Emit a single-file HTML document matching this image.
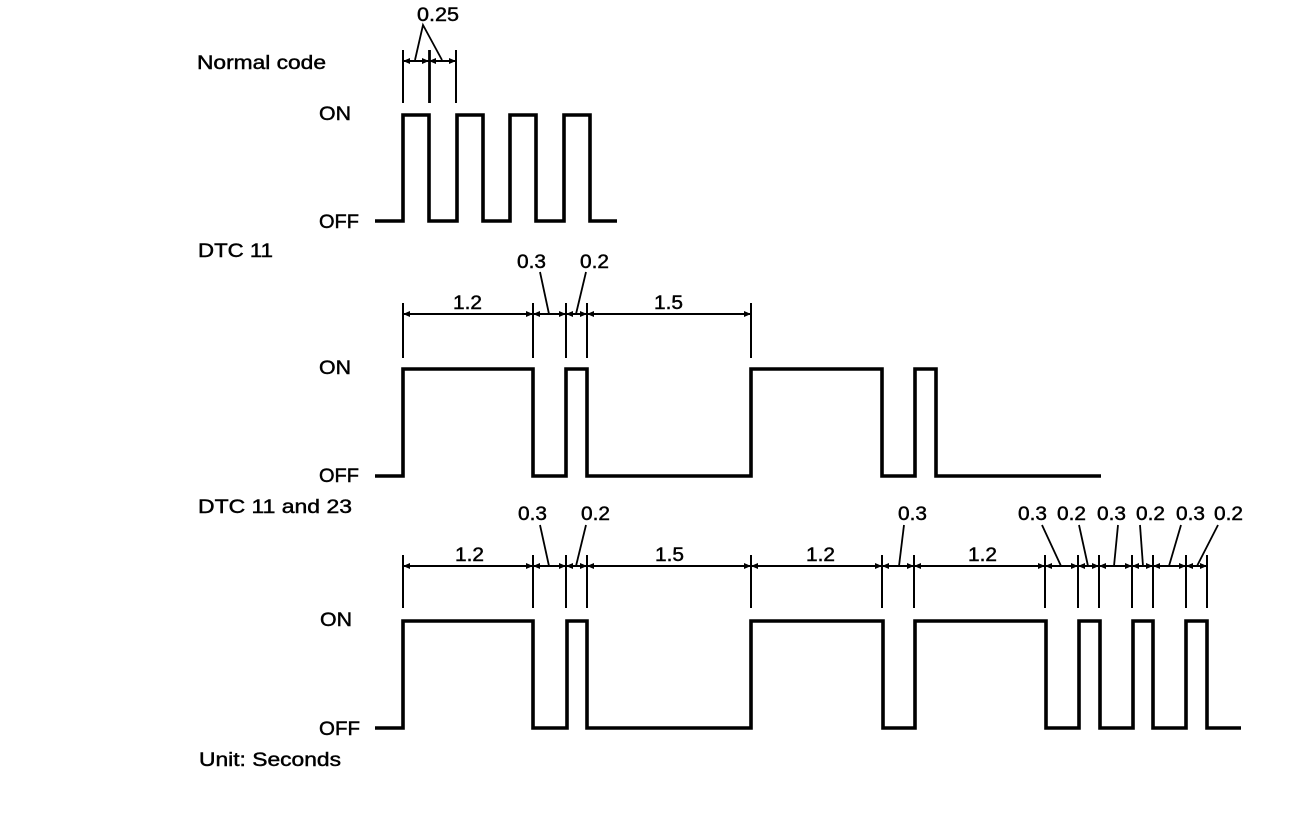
<!DOCTYPE html>
<html><head><meta charset="utf-8"><style>
html,body{margin:0;padding:0;background:#fff}
svg{display:block}
text{font-family:"Liberation Sans",sans-serif;fill:#000;stroke:#000;stroke-width:.45px;font-size:19px}
.w{fill:none;stroke:#000;stroke-width:3.6;stroke-linejoin:miter}
.d{fill:none;stroke:#000;stroke-width:2}
.t{stroke:#000;stroke-width:2}
.l{stroke:#000;stroke-width:1.8}
.m{text-anchor:middle}
</style></head><body>
<svg width="1312" height="824" viewBox="0 0 1312 824" xmlns="http://www.w3.org/2000/svg">
<defs>
<marker id="a" viewBox="0 0 7 6" refX="7" refY="3" markerWidth="7" markerHeight="6" markerUnits="userSpaceOnUse" orient="auto-start-reverse"><path d="M0 0L7 3L0 6Z" fill="#000"/></marker>
</defs>

<text x="197" y="69" textLength="129" lengthAdjust="spacingAndGlyphs">Normal code</text>
<text x="198" y="257" textLength="75" lengthAdjust="spacingAndGlyphs">DTC 11</text>
<text x="198" y="513" textLength="154" lengthAdjust="spacingAndGlyphs">DTC 11 and 23</text>
<text x="199" y="766" textLength="142" lengthAdjust="spacingAndGlyphs">Unit: Seconds</text>

<text x="319" y="120" textLength="32" lengthAdjust="spacingAndGlyphs">ON</text>
<text x="319" y="228" textLength="40" lengthAdjust="spacingAndGlyphs">OFF</text>
<text x="319" y="374" textLength="32" lengthAdjust="spacingAndGlyphs">ON</text>
<text x="319" y="482" textLength="40" lengthAdjust="spacingAndGlyphs">OFF</text>
<text x="320" y="626" textLength="32" lengthAdjust="spacingAndGlyphs">ON</text>
<text x="319" y="735" textLength="41" lengthAdjust="spacingAndGlyphs">OFF</text>

<text x="417" y="21" textLength="42" lengthAdjust="spacingAndGlyphs">0.25</text>
<text x="453" y="309" textLength="29" lengthAdjust="spacingAndGlyphs">1.2</text>
<text x="517" y="268" textLength="29" lengthAdjust="spacingAndGlyphs">0.3</text>
<text x="580" y="268" textLength="29" lengthAdjust="spacingAndGlyphs">0.2</text>
<text x="654" y="309" textLength="29" lengthAdjust="spacingAndGlyphs">1.5</text>
<text x="455" y="561" textLength="29" lengthAdjust="spacingAndGlyphs">1.2</text>
<text x="518" y="520" textLength="29" lengthAdjust="spacingAndGlyphs">0.3</text>
<text x="581" y="520" textLength="29" lengthAdjust="spacingAndGlyphs">0.2</text>
<text x="655" y="561" textLength="29" lengthAdjust="spacingAndGlyphs">1.5</text>
<text x="806" y="561" textLength="29" lengthAdjust="spacingAndGlyphs">1.2</text>
<text x="898" y="520" textLength="29" lengthAdjust="spacingAndGlyphs">0.3</text>
<text x="968" y="561" textLength="29" lengthAdjust="spacingAndGlyphs">1.2</text>
<text x="1018" y="520" textLength="29" lengthAdjust="spacingAndGlyphs">0.3</text>
<text x="1057" y="520" textLength="29" lengthAdjust="spacingAndGlyphs">0.2</text>
<text x="1097" y="520" textLength="29" lengthAdjust="spacingAndGlyphs">0.3</text>
<text x="1136" y="520" textLength="29" lengthAdjust="spacingAndGlyphs">0.2</text>
<text x="1176" y="520" textLength="29" lengthAdjust="spacingAndGlyphs">0.3</text>
<text x="1214" y="520" textLength="29" lengthAdjust="spacingAndGlyphs">0.2</text>

<path class="w" d="M375 221H403V115H429V221H457V115H483V221H510V115H536V221H564V115H590V221H617"/>
<path class="w" d="M375 476H403V369H533V476H566V369H587V476H751V369H882V476H915V369H936V476H1101"/>
<path class="w" d="M375 728H403V621H533V728H567V621H587V728H751V621H883V728H915V621H1046V728H1079V621H1100V728H1133V621H1153V728H1186V621H1207V728H1241"/>

<g class="t">
<line x1="403" y1="50" x2="403" y2="103"/><line x1="429.500" y1="50" x2="429.500" y2="103" stroke-width="2.800"/><line x1="456" y1="50" x2="456" y2="103"/>
<line x1="403" y1="303" x2="403" y2="358"/><line x1="533" y1="303" x2="533" y2="358"/><line x1="566" y1="303" x2="566" y2="358"/><line x1="587" y1="303" x2="587" y2="358"/><line x1="751" y1="303" x2="751" y2="358"/>
<line x1="403" y1="555" x2="403" y2="608"/><line x1="533" y1="555" x2="533" y2="608"/><line x1="566" y1="555" x2="566" y2="608"/><line x1="587" y1="555" x2="587" y2="608"/><line x1="751" y1="555" x2="751" y2="608"/><line x1="882" y1="555" x2="882" y2="608"/><line x1="914" y1="555" x2="914" y2="608"/><line x1="1045" y1="555" x2="1045" y2="608"/><line x1="1078" y1="555" x2="1078" y2="608"/><line x1="1099" y1="555" x2="1099" y2="608"/><line x1="1132" y1="555" x2="1132" y2="608"/><line x1="1153" y1="555" x2="1153" y2="608"/><line x1="1186" y1="555" x2="1186" y2="608"/><line x1="1207" y1="555" x2="1207" y2="608"/>
</g>

<g class="d">
<line x1="403" y1="61" x2="429" y2="61" marker-start="url(#a)" marker-end="url(#a)"/>
<line x1="429" y1="61" x2="456" y2="61" marker-start="url(#a)" marker-end="url(#a)"/>
<line x1="403" y1="314" x2="533" y2="314" marker-start="url(#a)" marker-end="url(#a)"/>
<line x1="533" y1="314" x2="566" y2="314" marker-start="url(#a)" marker-end="url(#a)"/>
<line x1="566" y1="314" x2="587" y2="314" marker-start="url(#a)" marker-end="url(#a)"/>
<line x1="587" y1="314" x2="751" y2="314" marker-start="url(#a)" marker-end="url(#a)"/>
<line x1="403" y1="566" x2="533" y2="566" marker-start="url(#a)" marker-end="url(#a)"/>
<line x1="533" y1="566" x2="566" y2="566" marker-start="url(#a)" marker-end="url(#a)"/>
<line x1="566" y1="566" x2="587" y2="566" marker-start="url(#a)" marker-end="url(#a)"/>
<line x1="587" y1="566" x2="751" y2="566" marker-start="url(#a)" marker-end="url(#a)"/>
<line x1="751" y1="566" x2="882" y2="566" marker-start="url(#a)" marker-end="url(#a)"/>
<line x1="882" y1="566" x2="914" y2="566" marker-start="url(#a)" marker-end="url(#a)"/>
<line x1="914" y1="566" x2="1045" y2="566" marker-start="url(#a)" marker-end="url(#a)"/>
<line x1="1045" y1="566" x2="1078" y2="566" marker-start="url(#a)" marker-end="url(#a)"/>
<line x1="1078" y1="566" x2="1099" y2="566" marker-start="url(#a)" marker-end="url(#a)"/>
<line x1="1099" y1="566" x2="1132" y2="566" marker-start="url(#a)" marker-end="url(#a)"/>
<line x1="1132" y1="566" x2="1153" y2="566" marker-start="url(#a)" marker-end="url(#a)"/>
<line x1="1153" y1="566" x2="1186" y2="566" marker-start="url(#a)" marker-end="url(#a)"/>
<line x1="1186" y1="566" x2="1207" y2="566" marker-start="url(#a)" marker-end="url(#a)"/>
</g>

<g class="l">
<path d="M415 60L423 25L442 60" fill="none" stroke="#000" stroke-width="1.800"/>
<line x1="540" y1="272" x2="549" y2="314"/><line x1="586" y1="272" x2="576" y2="314"/>
<line x1="540" y1="525" x2="549" y2="566"/><line x1="586" y1="525" x2="576" y2="566"/>
<line x1="904" y1="525" x2="899" y2="566"/>
<line x1="1042" y1="525" x2="1061" y2="566"/>
<line x1="1079" y1="525" x2="1088" y2="566"/>
<line x1="1118" y1="525" x2="1114" y2="566"/>
<line x1="1140" y1="525" x2="1143" y2="566"/>
<line x1="1181" y1="525" x2="1169" y2="566"/>
<line x1="1218" y1="525" x2="1197" y2="566"/>
</g>
</svg>
</body></html>
